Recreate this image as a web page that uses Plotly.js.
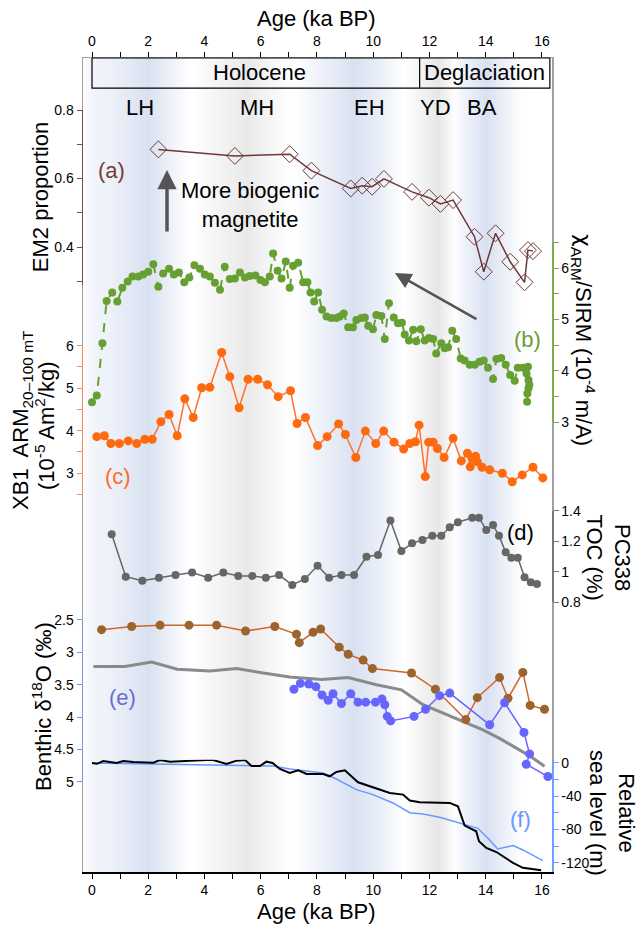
<!DOCTYPE html>
<html>
<head>
<meta charset="utf-8">
<script src="https://cdn.plot.ly/plotly-3.0.1.min.js"></script>
<style>html,body{margin:0;padding:0;background:#fff}#chart{width:639px;height:926px}</style>
</head>
<body>
<div id="chart"></div>
<script>
// ---------- data ----------
const ageTicks = [0,1,2,3,4,5,6,7,8,9,10,11,12,13,14,15,16];
const ageTickText = ['0','','2','','4','','6','','8','','10','','12','','14','','16'];

// background shading (bluish / white / grey bands)
const bandAge  = [-0.4,0.0,0.7,2.0,3.3,4.2,5.5,6.4,7.2,8.2,9.3,10.3,11.2,12.3,13.1,14.0,15.3,16.4];
const bandTone = [0,0.35,0.5,1,0.1,-0.3,-0.8,-0.3,0,0.5,1,0.5,-0.1,-0.9,0.3,1,0,0];

// (a) EM2 proportion
const emAge = [2.36,5.08,7.03,7.80,9.20,9.61,9.96,10.38,11.38,11.98,12.39,12.84,13.60,13.93,14.35,14.87,15.38,15.50,15.68];
const emVal = [0.685,0.666,0.671,0.623,0.571,0.579,0.576,0.599,0.561,0.544,0.526,0.537,0.430,0.328,0.440,0.357,0.297,0.391,0.388];
const emTicks = [0.3,0.4,0.5,0.6,0.7,0.8];
const emTickText = ['','0.4','','0.6','','0.8'];

// (b) chiARM/SIRM
const chiAge = [0.0,0.17,0.37,0.52,0.72,0.90,1.08,1.27,1.44,1.65,1.82,2.00,2.18,2.36,2.53,2.74,2.91,3.09,3.28,3.46,3.64,3.84,4.01,4.19,4.37,4.55,4.72,4.90,5.08,5.26,5.44,5.61,5.81,5.99,6.15,6.32,6.44,6.60,6.74,6.89,7.03,7.15,7.33,7.51,7.66,7.77,7.90,8.04,8.18,8.34,8.51,8.69,8.81,8.95,9.11,9.28,9.40,9.58,9.70,9.82,9.99,10.11,10.29,10.41,10.56,10.73,10.88,11.02,11.12,11.27,11.42,11.53,11.69,11.83,11.98,12.13,12.24,12.42,12.54,12.66,12.81,12.95,13.11,13.25,13.43,13.61,13.78,13.93,14.08,14.26,14.38,14.55,14.71,14.87,15.03,15.14,15.32,15.50,15.45,15.52,15.55,15.52,15.48,15.47];
const chiVal = [3.39,3.52,4.54,5.36,5.53,5.35,5.62,5.74,5.84,5.84,5.88,5.93,6.08,5.64,5.90,5.99,5.88,5.92,5.73,5.82,6.06,5.99,5.88,5.84,5.72,5.58,6.03,5.79,5.80,5.92,5.82,5.85,5.86,5.77,5.73,5.84,6.29,5.95,5.80,6.13,5.62,6.05,6.11,5.73,5.73,5.53,5.35,5.53,5.19,5.06,5.03,5.03,5.06,5.12,4.85,4.85,4.99,5.03,5.04,4.88,4.81,5.09,5.07,4.62,5.32,5.04,4.93,4.94,4.71,4.59,4.80,4.58,4.81,4.59,4.64,4.62,4.34,4.54,4.44,4.46,4.78,4.62,4.24,4.20,4.12,4.12,4.18,4.20,4.06,3.84,4.23,4.25,4.12,3.92,3.81,4.06,4.06,4.08,3.95,3.82,3.73,3.66,3.56,3.40];
const chiTicks = [3,3.5,4,4.5,5,5.5,6,6.5];
const chiTickText = ['3','','4','','5','','6',''];

// (c) XB1 ARM
const armAge = [0.17,0.44,0.67,0.97,1.29,1.59,1.88,2.14,2.45,2.74,3.03,3.30,3.60,3.90,4.19,4.61,4.90,5.23,5.55,5.89,6.24,6.62,7.06,7.29,7.59,8.02,8.36,8.77,9.01,9.38,9.72,10.09,10.37,10.74,11.08,11.30,11.50,11.63,11.85,11.97,12.13,12.28,12.52,12.84,13.13,13.35,13.45,13.52,13.64,13.70,13.87,14.14,14.59,14.94,15.30,15.68,16.03];
const armVal = [3.86,3.88,3.70,3.70,3.76,3.70,3.80,3.80,4.21,4.38,3.88,4.75,4.31,5.01,5.02,5.84,5.27,4.54,5.21,5.21,5.08,4.80,4.94,4.17,4.31,3.65,3.86,4.16,3.91,3.37,3.99,3.70,3.99,3.73,3.57,3.70,3.74,4.13,2.92,3.73,3.73,3.58,3.37,3.82,3.29,3.47,3.15,3.35,3.40,3.27,3.14,3.08,3.00,2.80,2.96,3.14,2.89];
const armTicks = [2.5,3,3.5,4,4.5,5,5.5,6];
const armTickText = ['','3','','4','','5','','6'];

// (d) PC338 TOC
const tocAge = [0.70,1.20,1.79,2.38,2.97,3.56,4.13,4.67,5.20,5.70,6.18,6.65,7.12,7.57,8.02,8.43,8.87,9.32,9.76,10.17,10.61,11.00,11.38,11.75,12.10,12.42,12.72,13.01,13.52,13.76,14.02,14.26,14.47,14.71,14.91,15.14,15.38,15.60,15.82];
const tocVal = [1.247,0.969,0.943,0.963,0.980,0.996,0.963,0.996,0.974,0.974,0.963,0.980,0.915,0.954,1.041,0.963,0.980,0.980,1.100,1.111,1.337,1.138,1.188,1.210,1.238,1.238,1.293,1.326,1.356,1.356,1.275,1.308,1.238,1.129,1.094,1.094,0.965,0.932,0.921];
const tocTicks = [0.8,1.0,1.2,1.4];
const tocTickText = ['0.8','1','1.2','1.4'];

// (e) benthic d18O
const d18Age = [0.34,1.41,2.42,3.45,4.43,5.46,6.50,7.27,7.37,7.86,8.13,8.79,9.11,9.64,9.97,11.36,12.21,13.29,13.70,14.49,14.79,15.32,15.58,16.09];
const d18Val = [2.65,2.60,2.58,2.58,2.58,2.67,2.60,2.72,2.85,2.69,2.64,2.92,3.03,3.12,3.25,3.32,3.57,4.04,3.70,3.39,3.71,3.31,3.82,3.88];
const stackAge = [0.05,1.17,2.12,3.03,4.19,5.14,6.09,7.03,8.16,9.11,10.11,11.00,11.77,12.48,13.19,13.90,14.49,15.03,15.56,16.09];
const stackVal = [3.22,3.22,3.15,3.26,3.29,3.25,3.32,3.38,3.42,3.39,3.50,3.58,3.81,3.94,4.06,4.20,4.33,4.46,4.60,4.76];
const blueAge = [7.18,7.41,7.71,7.96,8.18,8.40,8.57,8.87,9.20,9.46,9.73,10.08,10.31,10.41,10.50,10.62,11.45,11.86,12.36,12.72,14.14,14.67,15.36,15.56,15.44,16.21];
const blueVal = [3.57,3.48,3.49,3.53,3.66,3.74,3.64,3.79,3.64,3.77,3.77,3.77,3.72,3.81,3.99,4.06,3.99,3.88,3.67,3.63,4.12,3.78,4.24,4.57,4.73,4.92];
const d18Ticks = [2.5,3,3.5,4,4.5,5];
const d18TickText = ['2.5','3','3.5','4','4.5','5'];

// (f) relative sea level
const rslAge = [0,0.18,0.40,0.64,0.88,1.11,1.47,2.18,2.42,2.77,3.36,4.07,4.31,4.78,5.14,5.44,5.67,5.97,6.20,6.42,6.68,7.03,7.33,7.63,8.22,8.45,8.69,8.99,9.46,9.99,10.59,11.06,11.30,11.65,12.72,13.01,13.25,13.66,13.76,14.02,14.38,14.97,15.32,15.97];
const rslVal = [0,-1,2.4,1.6,0,2.4,1.2,0.4,3.6,1.6,2.8,3.6,3.6,-1.2,2.8,3.6,-3.6,-3.6,1.6,0,-7.2,-12,-8.8,-13.2,-13.2,-16,-10.8,-8.8,-23.2,-29.2,-36,-38,-45.2,-47.2,-48,-52,-75.3,-82,-94,-102,-107,-120,-126,-129];
const eslAge = [0,6.44,7.03,8.22,8.69,9.40,9.99,10.70,11.30,11.77,12.36,13.19,13.72,14.08,14.43,14.97,15.32,16.03];
const eslVal = [0,-3.6,-7.2,-12,-19.2,-32,-38,-48,-59.7,-61.3,-65.3,-73.7,-78.5,-90.5,-103.3,-99.3,-104.5,-117.3];
const slTicks = [-120,-100,-80,-60,-40,-20,0];
const slTickText = ['-120','','-80','','-40','','0'];

// ---------- chart ----------
const FONT = 'Liberation Sans, Arial, sans-serif';
const XR = [-0.32, 16.356];
const BG_SCALE = [[0, '#e4e4e4'], [0.5, '#ffffff'], [1, '#d9e1f1']];

function yax(domain, range, side, color, tv, tt) {
  return {domain: domain, range: range, anchor: 'x', side: side,
    showline: true, linecolor: color, linewidth: 1.5,
    ticks: 'outside', ticklen: 5, tickwidth: 1, tickcolor: color,
    tickvals: tv, ticktext: tt, tickfont: {size: 14, color: '#000'},
    showgrid: false, zeroline: false, fixedrange: true};
}

const traces = [
  {type: 'heatmap', x: bandAge, y: [0, 1], z: [bandTone, bandTone], zsmooth: 'best',
   zmin: -1, zmax: 1, showscale: false, hoverinfo: 'skip', xaxis: 'x', yaxis: 'y',
   colorscale: BG_SCALE},
  // same shading, invisible, only to carry the top age axis
  {type: 'heatmap', x: bandAge, y: [0, 1], z: [bandTone, bandTone], zsmooth: 'best',
   zmin: -1, zmax: 1, showscale: false, hoverinfo: 'skip', xaxis: 'x2', yaxis: 'y',
   opacity: 0, colorscale: BG_SCALE},
  {x: emAge, y: emVal, yaxis: 'y2', mode: 'lines+markers', cliponaxis: false,
   line: {color: '#6e3838', width: 1.5},
   marker: {symbol: 'diamond-open', size: 13, color: '#6e3838', line: {width: 1}}},
  {x: chiAge, y: chiVal, yaxis: 'y3', mode: 'lines+markers', cliponaxis: false,
   line: {color: '#67a032', width: 2, dash: 'dash'},
   marker: {size: 8, color: '#67a032'}},
  {x: armAge, y: armVal, yaxis: 'y4', mode: 'lines+markers', cliponaxis: false,
   line: {color: '#ff7030', width: 1.5},
   marker: {size: 9, color: '#ff6a10'}},
  {x: tocAge, y: tocVal, yaxis: 'y5', mode: 'lines+markers', cliponaxis: false,
   line: {color: '#666666', width: 1.5},
   marker: {size: 8, color: '#666666'}},
  {x: stackAge, y: stackVal, yaxis: 'y6', mode: 'lines', cliponaxis: false,
   line: {color: '#8a8a8a', width: 3}},
  {x: d18Age, y: d18Val, yaxis: 'y6', mode: 'lines+markers', cliponaxis: false,
   line: {color: '#d2652a', width: 1.5},
   marker: {size: 9, color: '#9c642c'}},
  {x: blueAge, y: blueVal, yaxis: 'y6', mode: 'lines+markers', cliponaxis: false,
   line: {color: '#6666ff', width: 1.5},
   marker: {size: 9, color: '#6666ff'}},
  {x: eslAge, y: eslVal, yaxis: 'y7', mode: 'lines', cliponaxis: false,
   line: {color: '#6699ff', width: 1.5}},
  {x: rslAge, y: rslVal, yaxis: 'y7', mode: 'lines', cliponaxis: false,
   line: {color: '#000000', width: 2}}
];

function ann(text, x, y, opts) {
  return Object.assign({text: text, x: x, y: y, xref: 'paper', yref: 'paper',
    showarrow: false, xanchor: 'center', yanchor: 'middle',
    font: {family: FONT, size: 22, color: '#000'}}, opts || {});
}

const annotations = [
  ann('Age (ka BP)', 8.0, 1.0485, {xref: 'x'}),
  ann('Age (ka BP)', 8.0, -0.0491, {xref: 'x'}),
  ann('Holocene', 5.97, 0.9816, {xref: 'x'}),
  ann('Deglaciation', 13.97, 0.9816, {xref: 'x'}),
  ann('LH', 1.71, 0.9398, {xref: 'x'}),
  ann('MH', 5.87, 0.9398, {xref: 'x'}),
  ann('EH', 9.88, 0.9398, {xref: 'x'}),
  ann('YD', 12.2, 0.9398, {xref: 'x'}),
  ann('BA', 13.87, 0.9398, {xref: 'x'}),
  ann('(a)', 0.0618, 0.8624, {font: {family: FONT, size: 22, color: '#7a3b3b'}}),
  ann('(b)', 0.9488, 0.6536, {font: {family: FONT, size: 22, color: '#6b9e35'}}),
  ann('(c)', 0.0746, 0.4853, {font: {family: FONT, size: 22, color: '#ff6a2a'}}),
  ann('(d)', 0.9318, 0.4165),
  ann('(e)', 0.0832, 0.2138, {font: {family: FONT, size: 22, color: '#6b6bd6'}}),
  ann('(f)', 0.9318, 0.0639, {font: {family: FONT, size: 22, color: '#6699ff'}}),
  ann('More biogenic<br>magnetite', 0.356, 0.820),
  // arrows
  {x: 0.1791, y: 0.8624, xref: 'paper', yref: 'paper', text: '', showarrow: true,
   ax: 0, ay: 63, arrowhead: 2, arrowsize: 1.1, arrowwidth: 3.5, arrowcolor: '#555555', standoff: 0},
  {x: 0.6652, y: 0.7359, xref: 'paper', yref: 'paper', text: '', showarrow: true,
   ax: 83, ay: 47, arrowhead: 2, arrowsize: 1.3, arrowwidth: 2.5, arrowcolor: '#555555', standoff: 0},
  // axis labels
  ann('EM2 proportion', -0.0917, 0.829, {textangle: -90}),
  ann('XB1  ARM<sub>20\u2013100 mT</sub>', -0.1301, 0.5553, {textangle: -90}),
  ann('(10<sup>-5</sup> Am<sup>2</sup>/kg)', -0.081, 0.5479, {textangle: -90}),
  ann('Benthic \u03b4<sup>18</sup>O (\u2030)', -0.0874, 0.2027, {textangle: -90}),
  ann('<span style="font-family:DejaVu Sans">\u03c7</span><sub>ARM</sub>/SIRM (10<sup>-4</sup> m/A)', 1.0661, 0.6536, {textangle: 90}),
  ann('PC338<br>TOC (%)', 1.1205, 0.387, {textangle: 90}),
  ann('Relative<br>sea level (m)', 1.128, 0.0725, {textangle: 90})
];

const shapes = [
  {type: 'rect', xref: 'x', yref: 'paper', x0: 0, x1: 16.28, y0: 0.9631, y1: 1.0,
   line: {color: '#000', width: 1.2}, fillcolor: 'rgba(0,0,0,0)', layer: 'above'},
  {type: 'line', xref: 'x', yref: 'paper', x0: 11.65, x1: 11.65, y0: 0.9631, y1: 1.0,
   line: {color: '#000', width: 1.2}, layer: 'above'}
];

const layout = {
  width: 639, height: 926,
  margin: {l: 83, r: 87, t: 58, b: 54, pad: 0},
  paper_bgcolor: '#ffffff', plot_bgcolor: 'rgba(0,0,0,0)',
  showlegend: false,
  font: {family: FONT, size: 14, color: '#000'},
  xaxis: {range: XR, domain: [0, 1], anchor: 'y', tickvals: ageTicks, ticktext: ageTickText,
    ticks: 'outside', ticklen: 5, tickcolor: '#000', showline: true, linecolor: '#000',
    linewidth: 1.5, showgrid: false, zeroline: false, fixedrange: true, tickfont: {size: 14}},
  xaxis2: {range: XR, overlaying: 'x', side: 'top', anchor: 'y', tickvals: ageTicks, ticktext: ageTickText,
    ticks: 'outside', ticklen: 5, tickcolor: '#000', showline: true, linecolor: '#a0a0a0',
    linewidth: 1.5, showgrid: false, zeroline: false, fixedrange: true, tickfont: {size: 14}},
  yaxis: {domain: [0, 1], range: [0, 1], showticklabels: false, ticks: '', showline: true, mirror: true,
    linecolor: '#a0a0a0', linewidth: 1.5, showgrid: false, zeroline: false, fixedrange: true},
  yaxis2: yax([0.7215, 0.9361], [0.29, 0.8], 'left', '#7a4848', emTicks, emTickText),
  yaxis3: yax([0.5526, 0.7732], [3, 6.5], 'right', '#7aad4a', chiTicks, chiTickText),
  yaxis4: yax([0.4638, 0.6466], [2.5, 6], 'left', '#ff8a55', armTicks, armTickText),
  yaxis5: yax([0.3311, 0.4435], [0.8, 1.4], 'right', '#777777', tocTicks, tocTickText),
  yaxis6: yax([0.1109, 0.3096], [5, 2.5], 'left', '#8c8cd9', d18Ticks, d18TickText),
  yaxis7: yax([0, 0.138], [-131, 4], 'right', '#6f9fff', slTicks, slTickText),
  annotations: annotations,
  shapes: shapes
};

Plotly.newPlot('chart', traces, layout, {displayModeBar: false, staticPlot: true});
</script>
</body>
</html>
